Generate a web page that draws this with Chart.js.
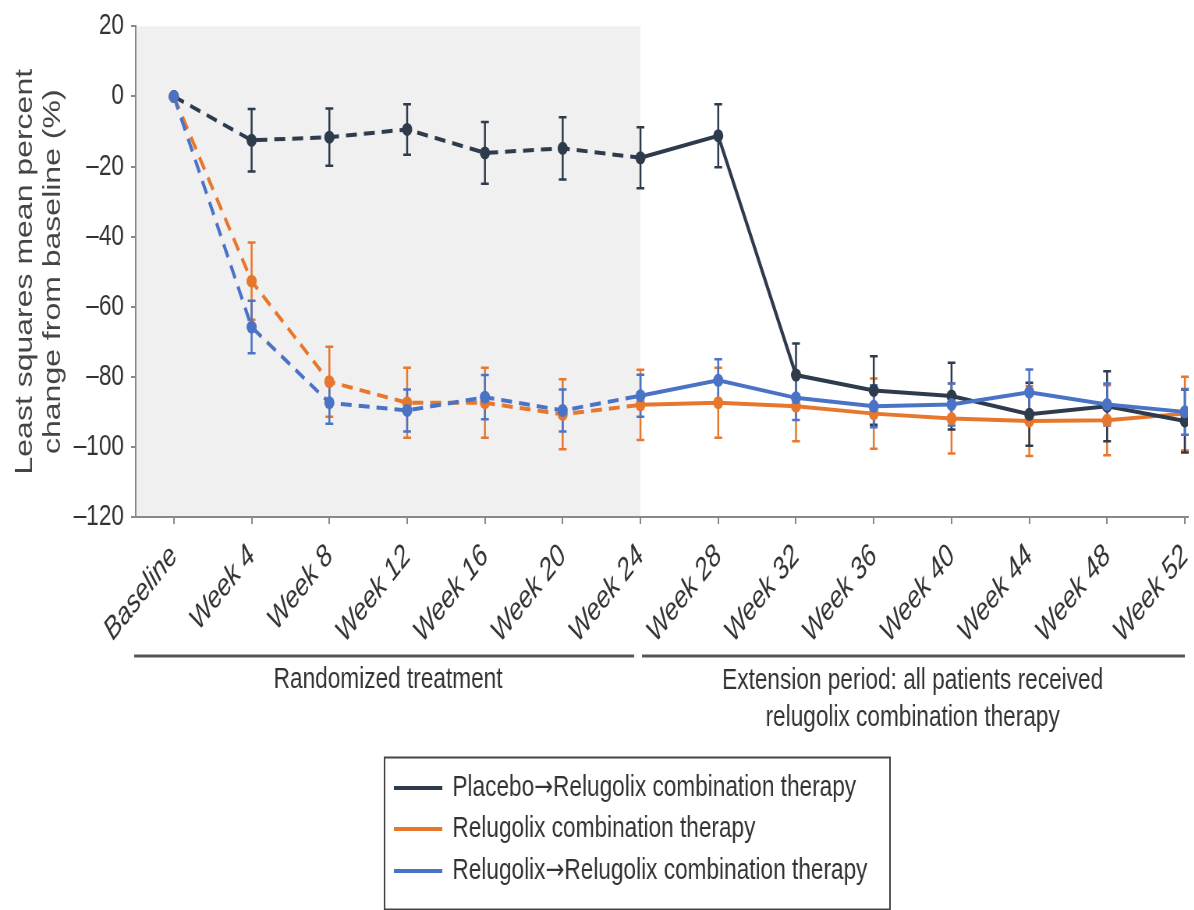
<!DOCTYPE html>
<html>
<head>
<meta charset="utf-8">
<script src="https://cdn.jsdelivr.net/npm/chart.js@4"></script>
<style>
    html, body { margin: 0; background: #fff; overflow: hidden; }
    /* the source figure is squeezed horizontally, so draw wide and squeeze the same way */
    #wrap { width: 1531px; height: 910px; transform: scaleX(0.78); transform-origin: 0 0; }
</style>
</head>
<body>
<div id="wrap">
<canvas id="myChart" width="1531" height="910" style="width:1531px;height:910px"></canvas>
</div>
<script>
const weeks = ['Baseline', 'Week 4', 'Week 8', 'Week 12', 'Week 16', 'Week 20', 'Week 24',
    'Week 28', 'Week 32', 'Week 36', 'Week 40', 'Week 44', 'Week 48', 'Week 52'];

// least squares mean % change
const placebo = [0, -12.5, -11.6, -9.4, -16.1, -14.8, -17.5, -11.2, -79.5, -83.9, -85.5, -90.7, -88.4, -92.6];
const placeboErr = [0, 8.9, 8.2, 7.2, 8.8, 8.9, 8.7, 9, 9, 9.8, 9.5, 9, 10, 9];
const relugolix = [0, -52.7, -81.4, -87.4, -87.4, -90.7, -88, -87.4, -88.4, -90.5, -91.9, -92.6, -92.4, -90.5];
const relugolixErr = [0, 11, 10, 10, 10, 10, 10, 10, 10, 10, 10, 10, 10, 10.5];
const relRel = [0, -65.8, -87.4, -89.6, -85.8, -89.6, -85.4, -81, -86, -88.4, -87.9, -84.4, -87.9, -90];
const relRelErr = [0, 7.5, 6, 6, 6.3, 6, 6, 6, 6.3, 6, 6, 6.5, 6, 6.5];

const yTicks = [20, 0, -20, -40, -60, -80, -100, -120];
const randomizedEnd = 6; // index of Week 24

const SANS = '"Liberation Sans", Arial, sans-serif';

function toPoints(arr) {
    return arr.map((v, i) => ({ x: i, y: v }));
}

function makeDataset(label, values, errs, color, order) {
    return {
        label: label,
        data: toPoints(values),
        errors: errs,
        borderColor: color,
        backgroundColor: color,
        borderWidth: 4,
        pointRadius: 6.5,
        pointHoverRadius: 6.5,
        pointBorderWidth: 0,
        tension: 0,
        order: order,
        segment: {
            borderDash: ctx => ctx.p0DataIndex < randomizedEnd ? [14, 9] : undefined
        }
    }
}

const shade = {
    id: 'shade',
    beforeDraw(chart) {
        const { ctx, chartArea, scales } = chart;
        const xEnd = scales.x.getPixelForValue(randomizedEnd);
        ctx.save();
        ctx.fillStyle = '#f0f0f0';
        ctx.fillRect(chartArea.left + 1, chartArea.top, xEnd - chartArea.left - 1, chartArea.bottom - chartArea.top);
        ctx.restore();
    }
};

const errorBars = {
    id: 'errorBars',
    beforeDatasetsDraw(chart) {
        const { ctx, scales } = chart;
        ctx.save();
        ctx.lineWidth = 2.5;
        // draw back-to-front like the datasets
        const sets = chart.data.datasets.slice().sort((a, b) => b.order - a.order);
        sets.forEach(ds => {
            ctx.strokeStyle = ds.borderColor;
            ds.data.forEach((p, j) => {
                const e = ds.errors[j];
                if (!e) return;
                const px = scales.x.getPixelForValue(p.x);
                const top = scales.y.getPixelForValue(p.y + e);
                const bot = scales.y.getPixelForValue(p.y - e);
                ctx.beginPath();
                ctx.moveTo(px, top); ctx.lineTo(px, bot);
                ctx.moveTo(px - 5, top); ctx.lineTo(px + 5, top);
                ctx.moveTo(px - 5, bot); ctx.lineTo(px + 5, bot);
                ctx.stroke();
            });
        });
        ctx.restore();
    }
};

// writes a legend label, the arrow taken from DejaVu since Liberation's is tiny
function legendText(ctx, text, x, y) {
    const parts = text.split('\u2192');
    parts.forEach((part, k) => {
        if (k > 0) {
            ctx.font = '29px "DejaVu Sans"';
            ctx.fillText('\u2192', x, y);
            x += ctx.measureText('\u2192').width;
        }
        ctx.font = '29px ' + SANS;
        ctx.fillText(part, x, y);
        x += ctx.measureText(part).width;
    });
}

const periods = {
    id: 'periods',
    afterDraw(chart) {
        const { ctx, chartArea, scales } = chart;
        const xSplit = scales.x.getPixelForValue(randomizedEnd);
        const xLast = scales.x.getPixelForValue(weeks.length - 1);
        const lineY = 656;
        ctx.save();
        ctx.strokeStyle = '#555';
        ctx.lineWidth = 3;
        ctx.beginPath();
        ctx.moveTo(chartArea.left - 2, lineY); ctx.lineTo(xSplit - 8, lineY);
        ctx.moveTo(xSplit + 2, lineY); ctx.lineTo(xLast, lineY);
        ctx.stroke();

        ctx.fillStyle = '#333';
        ctx.font = '29px ' + SANS;
        ctx.textAlign = 'center';
        ctx.textBaseline = 'middle';
        ctx.fillText('Randomized treatment', (chartArea.left + xSplit) / 2, 680);
        ctx.fillText('Extension period: all patients received', (xSplit + xLast) / 2, 681);
        ctx.fillText('relugolix combination therapy', (xSplit + xLast) / 2, 718);

        // legend box
        ctx.strokeStyle = '#444';
        ctx.lineWidth = 2;
        ctx.strokeRect(493, 757.5, 648, 152);
        ctx.textAlign = 'left';
        const rows = [788, 829, 871];
        chart.data.datasets.forEach((ds, i) => {
            ctx.strokeStyle = ds.borderColor;
            ctx.lineWidth = 4;
            ctx.beginPath();
            ctx.moveTo(505, rows[i]); ctx.lineTo(567, rows[i]);
            ctx.stroke();
            ctx.fillStyle = '#333';
            legendText(ctx, ds.label, 580, rows[i]);
        });
        ctx.restore();
    }
};

const ctx = document.getElementById('myChart').getContext('2d');
const myChart = new Chart(ctx, {
    type: 'line',
    data: {
        datasets: [
            makeDataset('Placebo\u2192Relugolix combination therapy', placebo, placeboErr, '#2d3b4c', 1),
            makeDataset('Relugolix combination therapy', relugolix, relugolixErr, '#e8772e', 2),
            makeDataset('Relugolix\u2192Relugolix combination therapy', relRel, relRelErr, '#4a73c5', 0)
        ]
    },
    options: {
        responsive: false,
        animation: false,
        devicePixelRatio: 1,
        layout: { padding: { top: 24, right: 8, left: 0, bottom: 0 } },
        plugins: {
            legend: { display: false },
            tooltip: { enabled: false }
        },
        scales: {
            x: {
                type: 'linear',
                min: -0.49,
                max: 13.04,
                afterBuildTicks: s => { s.ticks = weeks.map((w, i) => ({ value: i })) },
                afterFit: s => { s.height = 393; s.paddingLeft = 0; s.paddingRight = 0 },
                ticks: {
                    callback: v => weeks[v],
                    autoSkip: false,
                    maxRotation: 45,
                    minRotation: 45,
                    padding: 14,
                    color: '#333',
                    font: { family: SANS, size: 31, style: 'italic' }
                },
                grid: { drawOnChartArea: false, tickLength: 7, color: '#888', lineWidth: 2 },
                border: { color: '#888', width: 2 }
            },
            y: {
                min: -120,
                max: 20,
                afterBuildTicks: s => { s.ticks = yTicks.map(v => ({ value: v })) },
                afterFit: s => { s.width = 174 },
                ticks: {
                    callback: v => String(v).replace('-', '\u2013'),
                    padding: 9,
                    color: '#333',
                    font: { family: SANS, size: 29 }
                },
                grid: { drawOnChartArea: false, tickLength: 6, color: '#888', lineWidth: 2 },
                border: { color: '#888', width: 2 },
                title: {
                    display: true,
                    text: ['Least squares mean percent', 'change from baseline (%)'],
                    color: '#444',
                    padding: { top: 15, bottom: 0 },
                    font: { family: SANS, size: 32, lineHeight: 1.1 }
                }
            }
        }
    },
    plugins: [shade, errorBars, periods]
});
</script>
</body>
</html>
